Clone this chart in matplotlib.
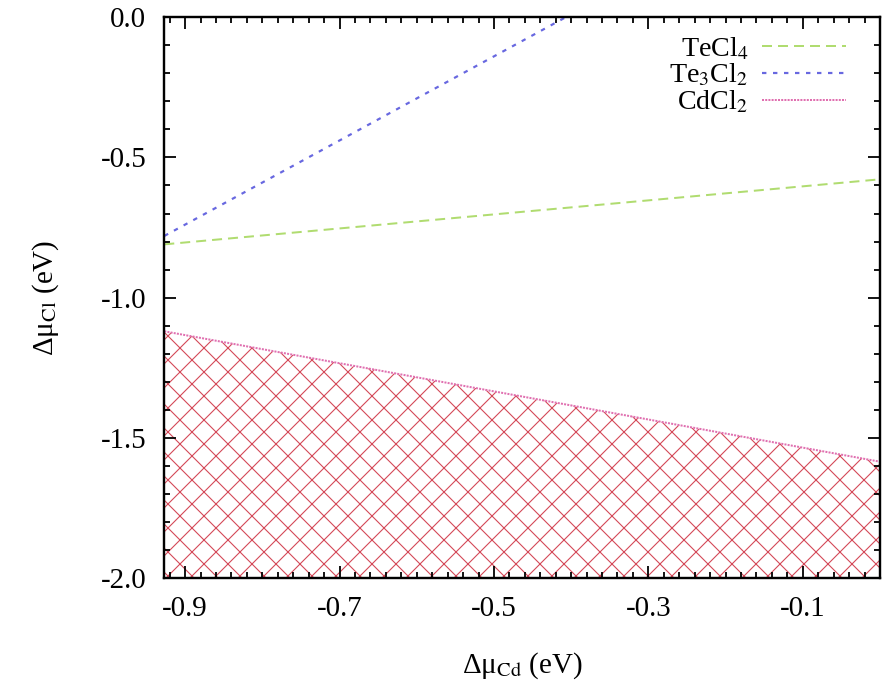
import numpy as np
import matplotlib
matplotlib.use("Agg")
import matplotlib.pyplot as plt
from matplotlib.ticker import MultipleLocator

plt.rcParams['font.family'] = ['Liberation Serif', 'DejaVu Serif']
plt.rcParams['mathtext.fontset'] = 'stix'
plt.rcParams['axes.unicode_minus'] = False
plt.rcParams['hatch.linewidth'] = 1.1

# chemical potential limits (eV)
mu_cd = [-0.927, 0.0]
tecl4 = [-0.81, -0.578]
mu_cd_te3cl2 = [-0.927, -0.407]
te3cl2 = [-0.78, 0.0]
cdcl2 = [-1.12, -1.585]
labels = [r'TeCl$_4$', r'Te$_3$Cl$_2$', r'CdCl$_2$']

# drawn at 72 dpi so that 1 pt = 1 px and the hatch comes out finer
DPI = 72
fig = plt.figure(figsize=(888 / DPI, 689 / DPI), dpi=DPI)
ax = fig.add_axes([0.185, 0.161, 0.806, 0.814])

ax.fill_between(mu_cd, [-2.0, -2.0], cdcl2, facecolor='none',
                edgecolor='#d44858', hatch='x', linewidth=0)
ax.plot(mu_cd, tecl4, color='#b0dc70', ls=(0, (5, 3)), lw=2.0, label=labels[0])
ax.plot(mu_cd_te3cl2, te3cl2, color='#6868e0', ls=(0, (2, 3)), lw=2.2, label=labels[1])
ax.plot(mu_cd, cdcl2, color='#e070b0', ls=(0, (1, 0.6)), lw=2.0, label=labels[2])

ax.set_xlim(-0.927, 0.0)
ax.set_ylim(-2.0, 0.0)
ax.set_xticks([-0.9, -0.7, -0.5, -0.3, -0.1])
ax.set_yticks([0.0, -0.5, -1.0, -1.5, -2.0])
ax.set_yticklabels(['0.0', '-0.5', '-1.0', '-1.5', '-2.0'])
ax.xaxis.set_minor_locator(MultipleLocator(0.02))
ax.yaxis.set_minor_locator(MultipleLocator(0.1))
ax.tick_params(which='both', direction='in', top=True, right=True, width=1.8)
ax.tick_params(which='major', length=12, labelsize=29, pad=18)
ax.tick_params(which='minor', length=6)
for s in ax.spines.values():
    s.set_linewidth(2.4)

ax.set_xlabel('Δμ$_{\\rm Cd}$ (eV)', fontsize=29, labelpad=28)
ax.set_ylabel('Δμ$_{\\rm Cl}$ (eV)', fontsize=29, labelpad=40)

ax.legend(loc='upper right', bbox_to_anchor=(1.0, 1.027), frameon=False,
          markerfirst=False, fontsize=28, handlelength=3.0, labelspacing=0.0,
          borderaxespad=0.9, borderpad=0.3, handletextpad=0.5)

fig.savefig('out.png', dpi=DPI)
